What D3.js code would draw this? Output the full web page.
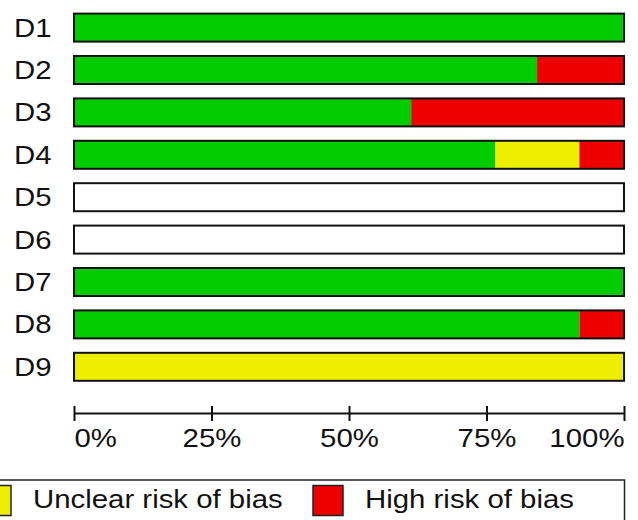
<!DOCTYPE html>
<html>
<head>
<meta charset="utf-8">
<script src="https://cdn.jsdelivr.net/npm/d3@7"></script>
<style>
    body { margin: 0; background: #fff; }
    svg { display: block; font-family: "Liberation Sans", Arial, sans-serif; }
</style>
</head>
<body>
<svg id="chart" width="638" height="520"></svg>
<script>
// risk of bias per domain, percent of studies
var domains = ["D1", "D2", "D3", "D4", "D5", "D6", "D7", "D8", "D9"];
var lowRisk = [100, 84.2, 61.3, 76.6, 0, 0, 100, 91.9, 0];
var unclearRisk = [0, 0, 0, 15.3, 0, 0, 0, 0, 100];
var highRisk = [0, 15.8, 38.7, 8.1, 0, 0, 0, 8.1, 0];
var tickValues = [0, 25, 50, 75, 100];
// only the last two legend entries are inside the picture
var legendLabels = ["Unclear risk of bias", "High risk of bias"];

var colors = ["#00cc00", "#eeee00", "#ee0000"];
var legendColors = ["#eeee00", "#ee0000"];
var textStretch = 1.13; // the text in the original is a bit wide

var svg = d3.select("#chart");

var x = d3.scaleLinear().domain([0, 100]).range([74, 624]);
var y = d3.scaleBand().domain(domains).range([12.6, 381.8]).paddingInner(0.2925).paddingOuter(0);

var rows = domains.map(function(d, i) {
    return { domain: d, values: [lowRisk[i], unclearRisk[i], highRisk[i]] };
});

var row = svg.selectAll(".row")
    .data(rows)
    .enter().append("g")
    .attr("class", "row");

// stacked segments
row.each(function(r) {
    var start = 0;
    var segs = r.values.map(function(v, k) {
        var s = { x0: start, x1: start + v, color: colors[k] };
        start += v;
        return s;
    });
    d3.select(this).selectAll("rect.seg")
        .data(segs.filter(function(s) { return s.x1 > s.x0; }))
        .enter().append("rect")
        .attr("class", "seg")
        .attr("x", function(s) { return x(s.x0); })
        .attr("width", function(s) { return x(s.x1) - x(s.x0); })
        .attr("y", y(r.domain) + 1)
        .attr("height", y.bandwidth() - 2)
        .attr("fill", function(s) { return s.color; });
});

// outline
row.append("rect")
    .attr("x", x(0))
    .attr("width", x(100) - x(0))
    .attr("y", function(r) { return y(r.domain) + 1; })
    .attr("height", y.bandwidth() - 2)
    .attr("fill", "none")
    .attr("stroke", "#111")
    .attr("stroke-width", 2);

row.append("text")
    .attr("transform", function(r) {
        return "translate(14," + (y(r.domain) + y.bandwidth() / 2 + 9) + ") scale(" + textStretch + ",1)";
    })
    .attr("font-size", 26)
    .attr("fill", "#111")
    .text(function(r) { return r.domain; });

// axis
var axis = svg.append("g")
    .attr("transform", "translate(0,413)")
    .call(d3.axisBottom(x).tickValues(tickValues).tickSizeOuter(0)
        .tickFormat(function(d) { return d + "%"; }));

axis.select(".domain").attr("stroke", "#111").attr("stroke-width", 2);
axis.selectAll(".tick line").attr("y1", -7).attr("y2", 8).attr("stroke", "#111").attr("stroke-width", 2);
axis.selectAll(".tick text")
    .attr("y", 34)
    .attr("dy", 0)
    .attr("transform", "scale(" + textStretch + ",1)")
    .attr("font-size", 26)
    .attr("font-family", "Liberation Sans, Arial, sans-serif")
    .attr("fill", "#111")
    .attr("text-anchor", function(d) {
        if (d == 0) return "start";
        if (d == 100) return "end";
        return "middle";
    });

// legend (its left part runs off the page)
var legend = svg.append("g").attr("class", "legend");
var itemX = [-19, 313];

legend.append("rect")
    .attr("x", -302)
    .attr("y", 480)
    .attr("width", 624.5 + 302)
    .attr("height", 60)
    .attr("fill", "none")
    .attr("stroke", "#222")
    .attr("stroke-width", 1.5);

legendLabels.forEach(function(label, k) {
    legend.append("rect")
        .attr("x", itemX[k])
        .attr("y", 485.5)
        .attr("width", 30)
        .attr("height", 30)
        .attr("fill", legendColors[k])
        .attr("stroke", "#222")
        .attr("stroke-width", 1.5);
    legend.append("text")
        .attr("transform", "translate(" + (itemX[k] + 52) + ",508) scale(" + textStretch + ",1)")
        .attr("font-size", 26)
        .attr("fill", "#111")
        .text(label);
});
</script>
</body>
</html>
